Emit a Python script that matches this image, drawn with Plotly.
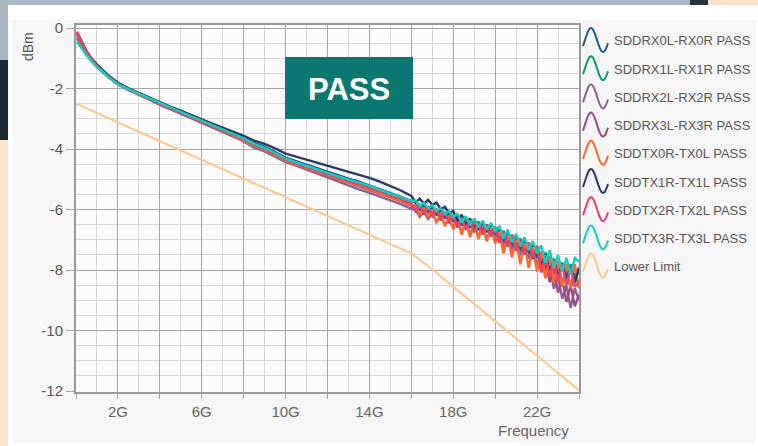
import plotly.graph_objects as go
import numpy as np

# ---------------- data ----------------
freq_low = [0.05, 0.25, 0.5, 0.75, 1, 1.5, 2, 2.5, 3, 3.5, 4, 4.5, 5, 5.5, 6, 6.5, 7, 7.5, 8, 8.5,
            9, 9.5, 10, 10.5, 11, 11.5, 12, 12.5, 13, 13.5, 14, 14.5, 15, 15.5, 16]
freq_high = [16.2, 16.4, 16.6, 16.8, 17.0, 17.2, 17.4, 17.6, 17.8, 18.0, 18.2, 18.4, 18.6, 18.8, 19.0,
             19.2, 19.4, 19.6, 19.8, 20.0, 20.2, 20.4, 20.6, 20.8, 21.0, 21.2, 21.4, 21.6, 21.8, 22.0,
             22.2, 22.4, 22.6, 22.8, 23.0, 23.2, 23.4, 23.6, 23.8, 24.0]
freq = freq_low + freq_high

names = ["SDDRX0L-RX0R PASS", "SDDRX1L-RX1R PASS", "SDDRX2L-RX2R PASS", "SDDRX3L-RX3R PASS",
         "SDDTX0R-TX0L PASS", "SDDTX1R-TX1L PASS", "SDDTX2R-TX2L PASS", "SDDTX3R-TX3L PASS"]
colors = ["#1f5d8c", "#0c9a73", "#8a6491", "#9c4a8b", "#ff6a2b", "#2b3a63", "#ee3e6c", "#12cdc0"]

rx0 = [-0.20, -0.47, -0.78, -1.02, -1.22, -1.55, -1.82, -2.00, -2.15, -2.31, -2.48, -2.62, -2.76, -2.90,
       -3.04, -3.19, -3.33, -3.47, -3.63, -3.80, -3.92, -4.10, -4.28, -4.40, -4.52, -4.63, -4.75, -4.87,
       -4.98, -5.08, -5.20, -5.33, -5.45, -5.58, -5.72,
       -5.75, -6.04, -5.83, -6.11, -5.90, -6.20, -6.00, -6.30, -6.10, -6.40, -6.19, -6.53, -6.27, -6.61,
       -6.35, -6.68, -6.42, -6.75, -6.49, -6.82, -6.64, -7.10, -6.77, -7.23, -6.90, -7.36, -7.02, -7.48,
       -7.14, -7.60, -7.38, -8.01, -7.55, -8.22, -7.80, -8.45, -8.00, -8.60, -8.10, -8.50]
rx1 = [-0.35, -0.60, -0.88, -1.10, -1.29, -1.60, -1.86, -2.04, -2.19, -2.36, -2.53, -2.67, -2.81, -2.96,
       -3.11, -3.27, -3.42, -3.57, -3.75, -3.95, -4.08, -4.25, -4.43, -4.53, -4.64, -4.74, -4.85, -4.96,
       -5.07, -5.17, -5.28, -5.40, -5.52, -5.64, -5.80,
       -6.05, -5.84, -6.13, -5.91, -6.20, -6.00, -6.35, -6.10, -6.45, -6.20, -6.54, -6.28, -6.62, -6.36,
       -6.70, -6.43, -6.77, -6.50, -6.84, -6.57, -7.04, -6.70, -7.17, -6.83, -7.30, -6.96, -7.42, -7.08,
       -7.54, -7.20, -7.88, -7.41, -8.05, -7.62, -8.25, -7.75, -8.35, -7.80, -8.40, -7.90]
rx2 = [-0.28, -0.55, -0.84, -1.07, -1.27, -1.59, -1.86, -2.05, -2.20, -2.36, -2.53, -2.68, -2.82, -2.97,
       -3.12, -3.27, -3.42, -3.57, -3.74, -3.92, -4.06, -4.23, -4.42, -4.55, -4.68, -4.81, -4.95, -5.09,
       -5.21, -5.33, -5.45, -5.58, -5.70, -5.82, -5.98,
       -6.00, -6.24, -6.08, -6.31, -6.15, -6.40, -6.25, -6.50, -6.35, -6.60, -6.34, -6.73, -6.42, -6.81,
       -6.50, -6.88, -6.57, -6.95, -6.64, -7.02, -6.74, -7.25, -6.87, -7.38, -7.00, -7.51, -7.12, -7.63,
       -7.29, -7.85, -7.53, -8.26, -7.85, -8.62, -8.20, -8.95, -8.50, -9.25, -8.60, -9.00]
rx3 = [-0.18, -0.48, -0.80, -1.04, -1.25, -1.58, -1.86, -2.04, -2.19, -2.35, -2.52, -2.66, -2.80, -2.95,
       -3.10, -3.25, -3.40, -3.54, -3.71, -3.89, -4.02, -4.19, -4.38, -4.50, -4.62, -4.74, -4.87, -4.99,
       -5.11, -5.22, -5.35, -5.48, -5.60, -5.72, -5.88,
       -6.05, -5.89, -6.13, -5.96, -6.20, -6.05, -6.30, -6.15, -6.40, -6.25, -6.59, -6.33, -6.67, -6.41,
       -6.75, -6.48, -6.82, -6.55, -6.89, -6.62, -7.09, -6.75, -7.22, -6.88, -7.35, -7.01, -7.47, -7.13,
       -7.64, -7.30, -8.08, -7.61, -8.40, -7.97, -8.75, -8.30, -9.05, -8.50, -9.20, -8.80]
tx0 = [-0.22, -0.50, -0.81, -1.05, -1.26, -1.58, -1.86, -2.04, -2.19, -2.34, -2.51, -2.66, -2.80, -2.95,
       -3.10, -3.25, -3.40, -3.55, -3.72, -3.90, -4.03, -4.20, -4.39, -4.51, -4.63, -4.74, -4.86, -4.98,
       -5.10, -5.20, -5.33, -5.46, -5.58, -5.71, -5.87,
       -5.85, -6.19, -5.93, -6.26, -6.00, -6.45, -6.10, -6.55, -6.20, -6.65, -6.29, -6.83, -6.37, -6.91,
       -6.45, -6.98, -6.52, -7.05, -6.59, -7.12, -6.74, -7.45, -6.87, -7.58, -7.00, -7.81, -7.12, -7.93,
       -7.24, -8.05, -7.38, -8.26, -7.55, -8.42, -7.70, -8.55, -7.80, -8.60, -7.80, -8.60]
tx1 = [-0.13, -0.44, -0.77, -1.01, -1.21, -1.54, -1.81, -1.99, -2.14, -2.29, -2.46, -2.60, -2.73, -2.88,
       -3.01, -3.16, -3.29, -3.42, -3.56, -3.72, -3.83, -3.98, -4.15, -4.25, -4.35, -4.44, -4.55, -4.65,
       -4.75, -4.83, -4.95, -5.08, -5.22, -5.37, -5.55,
       -5.77, -5.64, -5.81, -5.68, -5.85, -5.77, -5.99, -5.91, -6.13, -6.05, -6.39, -6.17, -6.51, -6.29,
       -6.63, -6.40, -6.73, -6.50, -6.83, -6.60, -7.05, -6.74, -7.19, -6.88, -7.33, -7.02, -7.47, -7.16,
       -7.61, -7.30, -7.89, -7.48, -8.07, -7.66, -8.25, -7.79, -8.33, -7.87, -8.41, -7.95]
tx2 = [-0.12, -0.45, -0.79, -1.04, -1.25, -1.58, -1.85, -2.03, -2.18, -2.34, -2.51, -2.65, -2.80, -2.94,
       -3.09, -3.24, -3.38, -3.52, -3.69, -3.87, -4.00, -4.17, -4.36, -4.48, -4.60, -4.71, -4.83, -4.95,
       -5.06, -5.16, -5.28, -5.41, -5.53, -5.65, -5.81,
       -6.00, -5.84, -6.08, -5.91, -6.15, -6.00, -6.25, -6.10, -6.35, -6.20, -6.54, -6.28, -6.62, -6.36,
       -6.70, -6.43, -6.77, -6.50, -6.84, -6.57, -7.09, -6.70, -7.22, -6.83, -7.35, -6.96, -7.47, -7.08,
       -7.59, -7.20, -8.03, -7.51, -8.20, -7.67, -8.35, -7.80, -8.50, -7.90, -8.55, -8.40]
tx3 = [-0.45, -0.66, -0.90, -1.10, -1.28, -1.59, -1.85, -2.02, -2.17, -2.32, -2.49, -2.63, -2.77, -2.92,
       -3.06, -3.21, -3.35, -3.49, -3.65, -3.83, -3.96, -4.13, -4.32, -4.44, -4.56, -4.66, -4.78, -4.90,
       -5.01, -5.11, -5.22, -5.35, -5.47, -5.59, -5.72,
       -5.70, -5.89, -5.78, -5.96, -5.85, -6.05, -5.95, -6.15, -6.05, -6.25, -6.14, -6.43, -6.22, -6.51,
       -6.30, -6.58, -6.37, -6.65, -6.44, -6.72, -6.54, -6.95, -6.67, -7.08, -6.80, -7.21, -6.92, -7.33,
       -7.04, -7.45, -7.18, -7.76, -7.35, -7.92, -7.50, -8.05, -7.60, -8.15, -7.60, -7.72]
series = [rx0, rx1, rx2, rx3, tx0, tx1, tx2, tx3]

limit_freq = [0, 16, 17, 18, 20, 22, 24]
limit_vals = [-2.5, -7.45, -7.98, -8.55, -9.7, -10.85, -11.97]
limit_name = "Lower Limit"
limit_color = "#fcc78a"

xtick_vals = [0, 2, 4, 6, 8, 10, 12, 14, 16, 18, 20, 22, 24]
xtick_text = ["", "2G", "", "6G", "", "10G", "", "14G", "", "18G", "", "22G", ""]
ytick_vals = [0, -2, -4, -6, -8, -10, -12]
ytick_text = ["0", "-2", "-4", "-6", "-8", "-10", "-12"]

# ---------------- layout geometry ----------------
W, H = 758, 446
L, R, T, B = 76, 579, 25, 392

def px(x):
    return (x - L) / (R - L)

def py(y):
    return (B - y) / (B - T)

fig = go.Figure()
for name, col, vals in zip(names, colors, series):
    fig.add_trace(go.Scatter(x=freq, y=vals, mode="lines", name=name,
                             line=dict(color=col, width=2.4)))
fig.add_trace(go.Scatter(x=limit_freq, y=limit_vals, mode="lines", name=limit_name,
                         line=dict(color=limit_color, width=2)))

shapes = []
annos = []

def rect(x0, y0, x1, y1, col, layer="below"):
    shapes.append(dict(type="rect", xref="paper", yref="paper", x0=px(x0), x1=px(x1),
                       y0=py(y1), y1=py(y0), fillcolor=col, line=dict(width=0), layer=layer))

# frame pieces of the screenshot
rect(8, 0, 758, 20, "#ffffff")
rect(8, 0, 13, 446, "#ffffff")
rect(755, 0, 758, 446, "#ffffff")
rect(8, 443, 758, 446, "#ffffff")
rect(0, 0, 690, 5, "#a9b9c3")
rect(690, 0, 708, 5, "#27333c")
rect(708, 0, 758, 5, "#fbe2cd")
rect(0, 0, 8, 60, "#a7b6bf")
rect(0, 60, 8, 140, "#1d2a33")
rect(0, 140, 8, 446, "#fce1cb")

# PASS badge
rect(285, 57, 413, 119, "#0a7770", layer="above")
annos.append(dict(text="<b>PASS</b>", x=px(349), y=py(89), xref="paper", yref="paper",
                  xanchor="center", yanchor="middle", showarrow=False,
                  font=dict(size=31, color="white", family="Liberation Sans, Arial")))

# axis titles
annos.append(dict(text="dBm", x=px(28), y=py(47), xref="paper", yref="paper", textangle=-90,
                  xanchor="center", yanchor="middle", showarrow=False,
                  font=dict(size=14, color="#555555", family="Liberation Sans, Arial")))
annos.append(dict(text="Frequency", x=px(533), y=py(430), xref="paper", yref="paper",
                  xanchor="center", yanchor="middle", showarrow=False,
                  font=dict(size=15, color="#666666", family="Liberation Sans, Arial")))

# custom legend with wave icons
all_names = names + [limit_name]
all_colors = colors + [limit_color]
t = np.linspace(0, 1, 25)
for k, (nm, col) in enumerate(zip(all_names, all_colors)):
    yc = 40 + 28.2 * k
    theta = np.pi / 2 + (t - 0.32) * 2 * np.pi / 0.96
    xs = 583 + 25 * t
    ys = yc - 12 * np.sin(theta)
    path = "M " + " L ".join(f"{px(a):.5f},{py(b):.5f}" for a, b in zip(xs, ys))
    shapes.append(dict(type="path", xref="paper", yref="paper", path=path,
                       line=dict(color=col, width=2)))
    annos.append(dict(text=nm, x=px(612), y=py(yc + 1), xref="paper", yref="paper",
                      xanchor="left", yanchor="middle", showarrow=False,
                      font=dict(size=13, color="#555555", family="Liberation Sans, Arial")))

major = "#a6a6a6"
minor = "#d9d9d9"
fig.update_layout(
    width=W, height=H,
    margin=dict(l=L, r=W - R, t=T, b=H - B),
    paper_bgcolor="#f6f6f6", plot_bgcolor="#fcfcfc",
    showlegend=False,
    shapes=shapes, annotations=annos,
    font=dict(family="Liberation Sans, Arial", color="#666666"),
    xaxis=dict(range=[0, 24], tickmode="array", tickvals=xtick_vals, ticktext=xtick_text,
               showgrid=True, gridcolor=major, gridwidth=1.3,
               minor=dict(tick0=0, dtick=1, showgrid=True, gridcolor=minor, gridwidth=1),
               ticks="outside", ticklen=5, tickcolor=major,
               showline=True, linecolor="#9a9a9a", linewidth=2, mirror=True,
               zeroline=False, tickfont=dict(size=15, color="#666666")),
    yaxis=dict(range=[-12.03, 0.1], tickmode="array", tickvals=ytick_vals, ticktext=ytick_text,
               showgrid=True, gridcolor=major, gridwidth=1.3,
               minor=dict(tick0=0, dtick=0.5, showgrid=True, gridcolor=minor, gridwidth=1),
               ticks="outside", ticklen=8, tickcolor=major,
               showline=True, linecolor="#9a9a9a", linewidth=2, mirror=True,
               zeroline=False, tickfont=dict(size=15, color="#555555")),
)

fig.write_html("out.html", config={"displayModeBar": False},
               post_script="document.body.style.margin='0';")
